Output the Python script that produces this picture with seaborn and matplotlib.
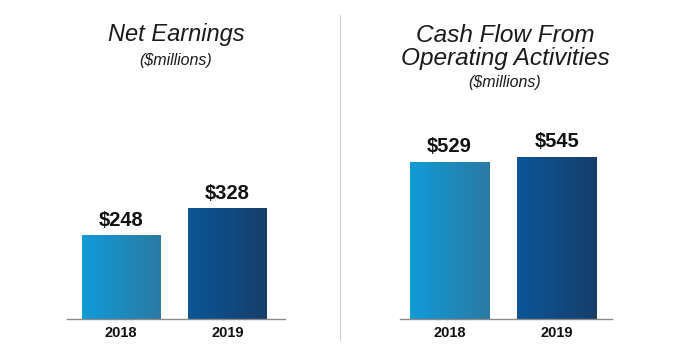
import numpy as np
import pandas as pd
import matplotlib.pyplot as plt
import seaborn as sns
from matplotlib.colors import LinearSegmentedColormap
from matplotlib.lines import Line2D

# chart data
years = ["2018", "2019"]
net_earnings = [248, 328]
cash_flow = [529, 545]

# left/right colour of each bar's horizontal gradient
grad_colors = {"2018": ("#109bd9", "#2a7aa2"), "2019": ("#0b5698", "#163e6b")}

sns.set_theme(style="white")
plt.rcParams['font.family'] = ['Liberation Sans', 'DejaVu Sans']


def gradient_bars(ax, df, col, xlim, ylim):
    """Draw bars with seaborn, then fill each with a left-to-right gradient"""
    sns.barplot(data=df, x="year", y=col, hue="year", palette=[c[0] for c in grad_colors.values()],
                width=0.74, legend=False, ax=ax)
    grad = np.linspace(0, 1, 256).reshape(1, -1)
    for patch, year in zip(ax.patches, df["year"]):
        x0, y0 = patch.get_x(), patch.get_y()
        w, h = patch.get_width(), patch.get_height()
        cmap = LinearSegmentedColormap.from_list(year, grad_colors[year])
        im = ax.imshow(grad, cmap=cmap, extent=(x0, x0 + w, y0, y0 + h),
                       aspect="auto", zorder=2)
        im.set_clip_path(patch)
        patch.set_facecolor("none")
        patch.set_edgecolor("none")
        ax.text(x0 + w / 2, y0 + h + ylim[1] * 0.022, f"${int(h)}", ha="center", va="bottom",
                fontsize=14.5, fontweight="bold", color="#111111")
    ax.set_xlim(*xlim)
    ax.set_ylim(*ylim)
    ax.set_xlabel("")
    ax.set_ylabel("")
    ax.set_yticks([])
    ax.tick_params(axis="x", length=0, pad=5, labelsize=10.5)
    for lab in ax.get_xticklabels():
        lab.set_fontweight("bold")
        lab.set_color("#111111")
    for side in ["top", "left", "right"]:
        ax.spines[side].set_visible(False)
    ax.spines["bottom"].set_color("#8a8a8a")
    ax.spines["bottom"].set_linewidth(1.0)


df_net = pd.DataFrame({"year": years, "value": net_earnings})
df_cash = pd.DataFrame({"year": years, "value": cash_flow})

fig = plt.figure(figsize=(6.8, 3.56), dpi=100)
ax1 = fig.add_axes([0.0985, 0.104, 0.3206, 0.702])
ax2 = fig.add_axes([0.588, 0.104, 0.312, 0.702])

gradient_bars(ax1, df_net, "value", (-0.51, 1.54), (0, 740))
gradient_bars(ax2, df_cash, "value", (-0.46, 1.51), (0, 840))

# titles
title_kw = dict(ha="center", va="center", style="italic", color="#1a1a1a")
fig.text(176 / 680, 1 - 35 / 356, "Net Earnings", fontsize=17, **title_kw)
fig.text(176 / 680, 1 - 60 / 356, "($millions)", fontsize=11.5, **title_kw)
fig.text(505 / 680, 1 - 35 / 356, "Cash Flow From", fontsize=17.6, **title_kw)
fig.text(505 / 680, 1 - 59 / 356, "Operating Activities", fontsize=17.6, **title_kw)
fig.text(505 / 680, 1 - 83 / 356, "($millions)", fontsize=11.5, **title_kw)

# vertical divider
fig.add_artist(Line2D([0.5, 0.5], [0.045, 0.958], transform=fig.transFigure,
                      color="#cfcfcf", lw=0.8))

fig.savefig("out.png", dpi=100)
